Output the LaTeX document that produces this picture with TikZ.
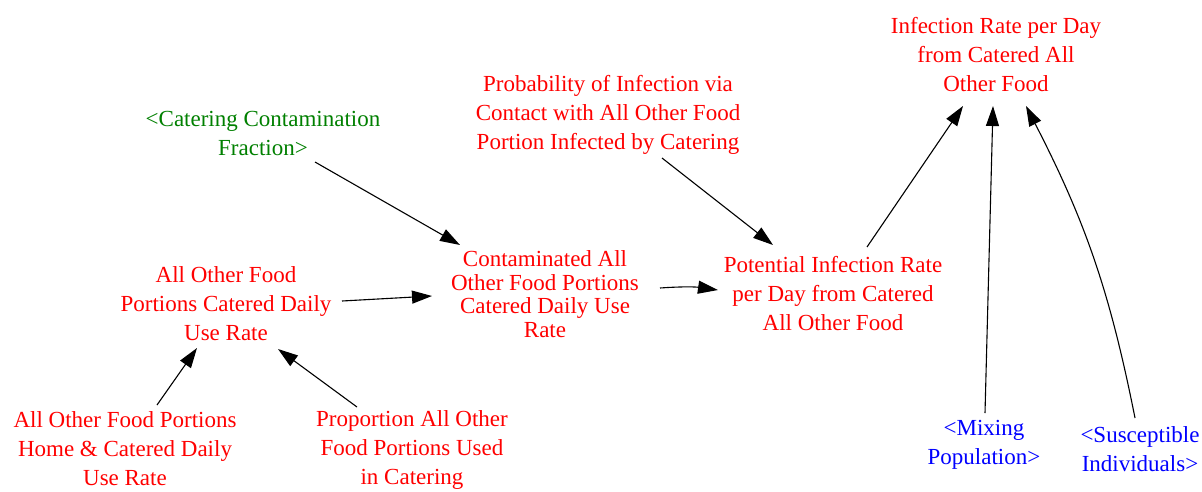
\documentclass[tikz,border=0pt]{standalone}
\usepackage{fontspec}
\setmainfont{Liberation Serif}
\usetikzlibrary{arrows.meta}
\definecolor{varred}{RGB}{255,0,0}
\definecolor{shadowgreen}{RGB}{0,128,0}
\definecolor{shadowblue}{RGB}{0,0,255}
\begin{document}
\begin{tikzpicture}[x=1pt,y=-1pt,
  var/.style={align=center,text=varred,inner sep=0pt,font=\fontsize{23}{29}\selectfont},
  shadowg/.style={var,text=shadowgreen},
  shadowb/.style={var,text=shadowblue},
  link/.style={line width=1.1pt,-{Triangle[length=20pt,width=13pt]}}]
\useasboundingbox (0,0) rectangle (1202,491);
\fill[white] (0,0) rectangle (1202,491);

% variables
\node[var] (inf) at (996,55) {Infection Rate per Day\\from Catered All\\Other Food};
\node[var] (prob) at (608,115) {Probability of Infection via\\Contact with All Other Food\\Portion Infected by Catering};
\node[shadowg] (ccf) at (263,133) {<Catering Contamination\\Fraction>};
\node[var,font=\fontsize{23}{23.5}\selectfont] (cont) at (545,294) {Contaminated All\\Other Food Portions\\Catered Daily Use\\Rate};
\node[var] (aof) at (226,304) {All Other Food\\Portions Catered Daily\\Use Rate};
\node[var] (pot) at (833,294) {Potential Infection Rate\\per Day from Catered\\All Other Food};
\node[var] (home) at (125,449) {All Other Food Portions\\Home \& Catered Daily\\Use Rate};
\node[var] (prop) at (412,450) {Proportion All Other\\Food Portions Used\\in Catering};
\node[shadowb] (mix) at (984,445) {<Mixing\\Population>};
\node[shadowb] (susc) at (1140,449) {<Susceptible\\Individuals>};

% causal links
\draw[link] ([shift={(52,29)}]ccf.center) -- ([shift={(-85,-49)}]cont.center);
\draw[link] ([shift={(116,-3)}]aof.center) -- ([shift={(-113,2)}]cont.center);
\draw[link] ([shift={(115,-6)}]cont.center) to[bend left=6] ([shift={(-115,-4)}]pot.center);
\draw[link] ([shift={(54,43)}]prob.center) -- ([shift={(-60,-49)}]pot.center);
\draw[link] ([shift={(34,-47)}]pot.center) -- ([shift={(-33,51)}]inf.center);
\draw[link] ([shift={(1,-32)}]mix.center) -- ([shift={(-3,51)}]inf.center);
\draw[link] ([shift={(-5,-31)}]susc.center) to[bend right=8] ([shift={(30,51)}]inf.center);
\draw[link] ([shift={(32,-44)}]home.center) -- ([shift={(-29,44)}]aof.center);
\draw[link] ([shift={(-55,-43)}]prop.center) -- ([shift={(52,45)}]aof.center);
\end{tikzpicture}
\end{document}
